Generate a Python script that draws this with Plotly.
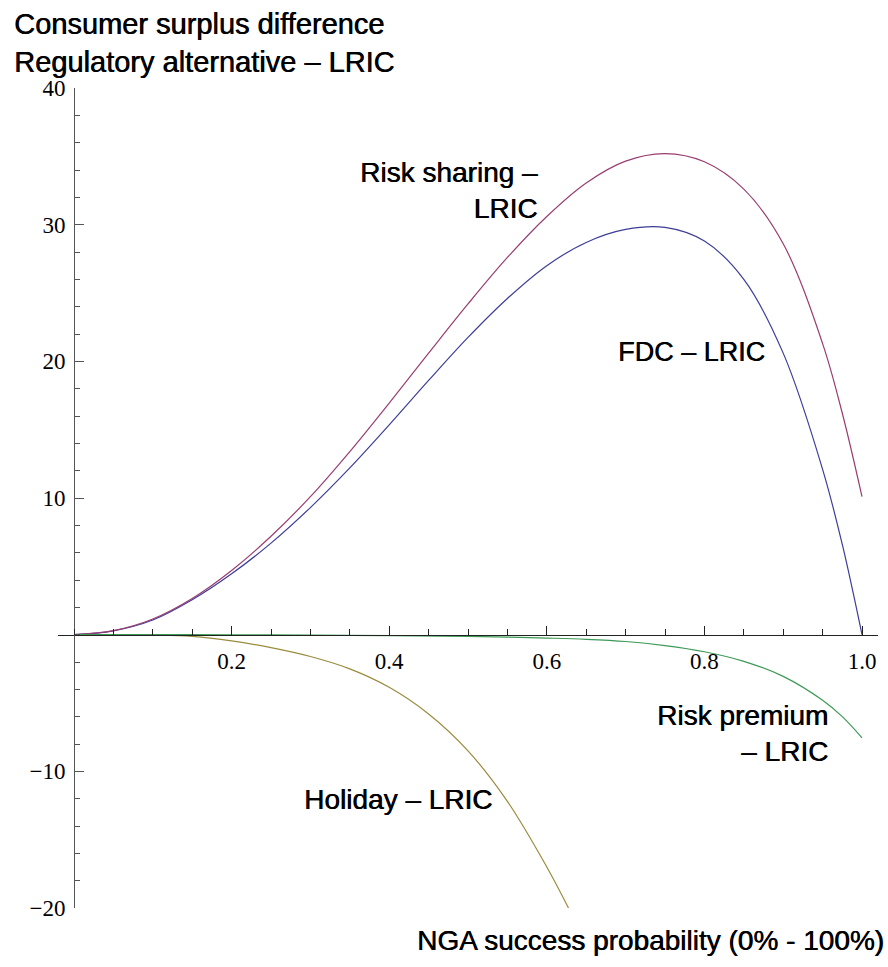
import plotly.graph_objects as go

# ---- data ----
x_grid = [0.0, 0.05, 0.10, 0.15, 0.20, 0.25, 0.30, 0.35, 0.40, 0.45, 0.50,
          0.55, 0.60, 0.65, 0.70, 0.75, 0.80, 0.85, 0.90, 0.95, 0.975, 1.0]

risk_sharing = [0.0, 0.3, 1.15, 2.65, 4.7, 7.2, 10.1, 13.4, 16.95, 20.6, 24.2,
                27.6, 30.6, 33.05, 34.65, 35.2, 34.6, 32.6, 28.6, 21.3, 16.2, 10.1]

fdc = [0.0, 0.28, 1.07, 2.55, 4.45, 6.7, 9.3, 12.2, 15.35, 18.6, 21.75,
       24.6, 27.0, 28.7, 29.65, 29.8, 28.8, 26.0, 20.6, 12.1, 6.6, 0.0]

holiday_x = [0.0, 0.05, 0.10, 0.15, 0.20, 0.25, 0.30, 0.35, 0.40, 0.45, 0.50,
             0.55, 0.60, 0.6275]
holiday = [0.0, 0.0, -0.02, -0.12, -0.45, -0.95, -1.6, -2.5, -3.85, -5.8, -8.5,
           -12.2, -17.0, -20.0]

risk_premium_x = [0.0, 0.1, 0.2, 0.3, 0.4, 0.5, 0.55, 0.6, 0.65, 0.7, 0.75,
                  0.8, 0.85, 0.9, 0.95, 0.975, 1.0]
risk_premium = [0.0, 0.0, -0.01, -0.03, -0.07, -0.13, -0.18, -0.25, -0.34, -0.5,
                -0.8, -1.25, -1.95, -3.05, -4.8, -6.0, -7.55]

x_tickvals = [0.2, 0.4, 0.6, 0.8, 1.0]
x_ticktext = ["0.2", "0.4", "0.6", "0.8", "1.0"]
y_tickvals = [-20, -10, 10, 20, 30, 40]
y_ticktext = ["\u221220", "\u221210", "10", "20", "30", "40"]

x_range = [-0.0203, 1.0203]
y_range = [-20, 40]

# Mathematica default plot colours
c_blue = "rgb(61,61,153)"
c_purple = "rgb(153,61,113)"
c_olive = "rgb(153,140,61)"
c_green = "rgb(61,153,86)"

LABEL_FONT = dict(family="Liberation Sans, Arial, sans-serif", size=28, color="black",
                  shadow="0.6px 0px 0px black")
TICK_FONT = dict(family="Liberation Serif, Times New Roman, serif", size=23, color="black")
AX_COL = "#555"

fig = go.Figure()
for xs, ys, col in [(x_grid, fdc, c_blue), (x_grid, risk_sharing, c_purple),
                    (holiday_x, holiday, c_olive), (risk_premium_x, risk_premium, c_green)]:
    fig.add_trace(go.Scatter(x=xs, y=ys, mode="lines",
                             line=dict(color=col, width=1.2, shape="spline", smoothing=1.0),
                             showlegend=False, hoverinfo="skip"))

x_pos = (0 - x_range[0]) / (x_range[1] - x_range[0])
y_pos = (0 - y_range[0]) / (y_range[1] - y_range[0])

fig.update_layout(
    width=888, height=967,
    margin=dict(l=58, r=10, t=88, b=59),
    paper_bgcolor="white", plot_bgcolor="white",
    xaxis=dict(range=x_range, showgrid=False, zeroline=False, showline=True,
               linecolor="#222", linewidth=1, anchor="free", position=y_pos,
               tickmode="array", tickvals=x_tickvals, ticktext=x_ticktext,
               ticks="inside", ticklen=9, tickcolor="#222", tickwidth=1,
               tickfont=TICK_FONT, ticklabelstandoff=6,
               minor=dict(tickmode="linear", tick0=0, dtick=0.05, ticks="inside",
                          ticklen=5.5, tickcolor="#222", tickwidth=1, showgrid=False)),
    yaxis=dict(range=y_range, showgrid=False, zeroline=False, showline=True,
               linecolor=AX_COL, linewidth=1, anchor="free", position=x_pos,
               tickmode="array", tickvals=y_tickvals, ticktext=y_ticktext,
               ticks="inside", ticklen=9, tickcolor=AX_COL, tickwidth=1,
               tickfont=TICK_FONT, ticklabelstandoff=4,
               minor=dict(tickmode="linear", tick0=0, dtick=2, ticks="inside",
                          ticklen=5.5, tickcolor=AX_COL, tickwidth=1, showgrid=False)),
)

annos = [
    dict(text="Consumer surplus difference<br>Regulatory alternative \u2013 LRIC",
         xref="paper", yref="paper", x=(12 - 58) / 820, y=(908 - 6) / 820,
         xanchor="left", yanchor="top", align="left",
         font=dict(LABEL_FONT, size=29)),
    dict(text="NGA success probability (0% - 100%)", xref="paper", yref="paper",
         x=(886 - 58) / 820, y=(908 - 940) / 820, xanchor="right", yanchor="middle",
         align="right", font=LABEL_FONT),
    dict(text="Risk sharing \u2013<br>LRIC", xref="x", yref="y", x=0.591, y=32.5,
         xanchor="right", yanchor="middle", align="right", font=LABEL_FONT),
    dict(text="FDC \u2013 LRIC", xref="x", yref="y", x=0.88, y=20.7,
         xanchor="right", yanchor="middle", align="right", font=dict(LABEL_FONT, size=27)),
    dict(text="Risk premium<br>\u2013 LRIC", xref="x", yref="y", x=0.959, y=-7.2,
         xanchor="right", yanchor="middle", align="right", font=LABEL_FONT),
    dict(text="Holiday \u2013 LRIC", xref="x", yref="y", x=0.289, y=-12.06,
         xanchor="left", yanchor="middle", align="left", font=LABEL_FONT),
]
for a in annos:
    fig.add_annotation(showarrow=False, **a)

fig.write_html("out.html", config={"displayModeBar": False},
               post_script="document.body.style.margin='0';document.body.style.padding='0';")
